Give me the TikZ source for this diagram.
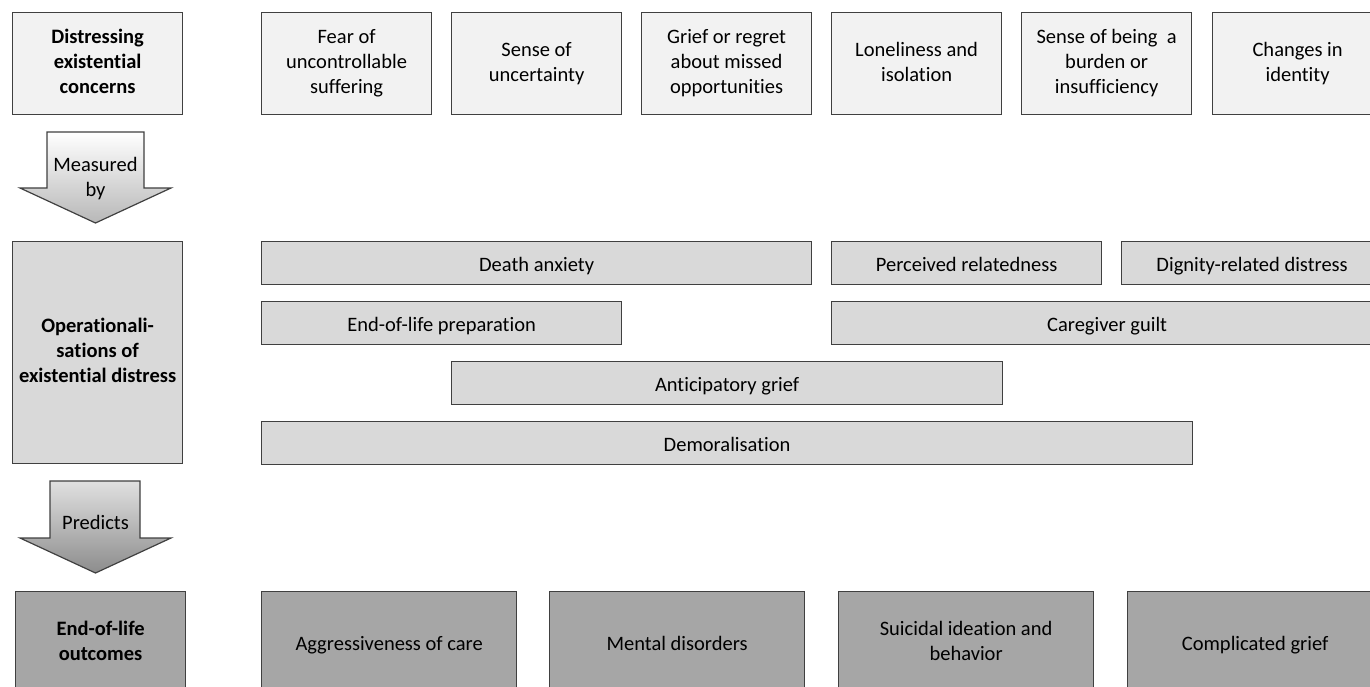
\documentclass[tikz,border=0pt]{standalone}
\usepackage{fontspec}
\setmainfont{Carlito}[Ligatures={NoCommon,NoRare,NoContextual}]
\definecolor{edgecol}{RGB}{64,64,64}
\definecolor{topfill}{RGB}{242,242,242}
\definecolor{midfill}{RGB}{217,217,217}
\definecolor{botfill}{RGB}{166,166,166}
\newcommand{\mainfs}{\fontsize{20.5}{25}\selectfont}
\newcommand{\lowstrut}{\rule[-4pt]{0pt}{24pt}}
\begin{document}
\begin{tikzpicture}[x=1pt,y=-1pt,
  box/.style={draw=edgecol, line width=1.2pt, inner sep=0pt, align=center, anchor=north west, font=\mainfs,
    execute at begin node=\lowstrut, execute at end node=\lowstrut},
  topbox/.style={box, fill=topfill, minimum width=170pt, minimum height=102pt},
  bar/.style={box, fill=midfill, minimum height=43pt},
  outbox/.style={box, fill=botfill, minimum width=255pt, minimum height=102pt},
  heading/.style={font=\mainfs\bfseries},
  blockarrow/.style={draw=edgecol, line width=1.2pt},
  arrowtext/.style={font=\mainfs, align=center, inner sep=0pt,
    execute at begin node=\lowstrut, execute at end node=\lowstrut}]
\useasboundingbox (0,0) rectangle (1370,687);
\clip (0,0) rectangle (1370,687);

% top row
\node[topbox, heading] (dec) at (12,12) {Distressing\\existential\\concerns};
\node[topbox] (fear) at (261,12) {Fear of\\uncontrollable\\suffering};
\node[topbox] (unc) at (451,12) {Sense of\\uncertainty};
\node[topbox] (grief) at (641,12) {Grief or regret\\about missed\\opportunities};
\node[topbox] (lone) at (831,12) {Loneliness and\\isolation};
\node[topbox] (burden) at (1021,12) {Sense of being\ \ a\\burden or\\insufficiency};
\node[topbox] (ident) at (1212,12) {Changes in\\identity};

% measured by arrow
\path[blockarrow, top color=white, bottom color=black!28]
  (47,132) -- (144,132) -- (144,188) -- (171,188) -- (95.5,223) -- (20,188) -- (47,188) -- cycle;
\node[arrowtext] (measured) at (95.5,179) {Measured\\by};

% operationalisations
\node[box, fill=midfill, heading, minimum width=170pt, minimum height=222pt] (ops) at (12,241)
  {Operationali-\\sations of\\existential distress};
\node[bar, minimum width=550pt] (da) at (261,241) {Death anxiety};
\node[bar, minimum width=270pt] (pr) at (831,241) {Perceived relatedness};
\node[bar, minimum width=261pt] (dig) at (1121,241) {Dignity-related distress};
\node[bar, minimum width=360pt] (eolp) at (261,301) {End-of-life preparation};
\node[bar, minimum width=551pt] (cg) at (831,301) {Caregiver guilt};
\node[bar, minimum width=551pt] (ag) at (451,361) {Anticipatory grief};
\node[bar, minimum width=931pt] (dem) at (261,421) {Demoralisation};

% predicts arrow
\path[blockarrow, top color=black!12, bottom color=black!45]
  (50,481) -- (140,481) -- (140,538) -- (171,538) -- (95.5,573) -- (20,538) -- (50,538) -- cycle;
\node[arrowtext] (predicts) at (95.5,521) {Predicts};

% outcomes
\node[outbox, heading, minimum width=170pt] (eol) at (15,591) {End-of-life\\outcomes};
\node[outbox] (aggr) at (261,591) {Aggressiveness of care};
\node[outbox] (ment) at (549,591) {Mental disorders};
\node[outbox] (sui) at (838,591) {Suicidal ideation and\\behavior};
\node[outbox] (comp) at (1127,591) {Complicated grief};
\end{tikzpicture}
\end{document}
